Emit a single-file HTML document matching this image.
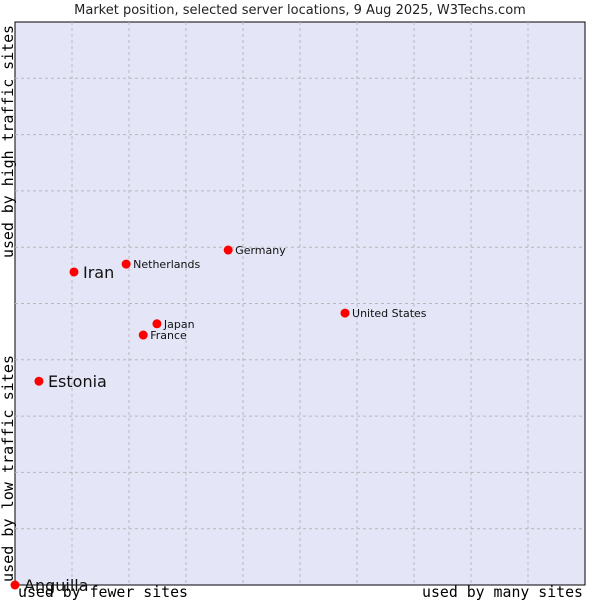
<!DOCTYPE html>
<html><head><meta charset="utf-8"><style>
body{margin:0;background:#fff;width:600px;height:600px;overflow:hidden}
svg text{font-family:"DejaVu Sans","Liberation Sans",sans-serif}
.mono{font-family:"DejaVu Sans Mono","Liberation Mono",monospace}
</style></head><body>
<svg id="chart" width="600" height="600" xmlns="http://www.w3.org/2000/svg">
<text x="300" y="14" font-size="13" text-anchor="middle" fill="#222">Market position, selected server locations, 9 Aug 2025, W3Techs.com</text>
<rect x="15" y="22" width="570" height="563" fill="#e4e6f8" stroke="#000" stroke-width="1"/>
<g id="grid"></g>
<g id="points"></g>
<text class="mono" x="18" y="597" font-size="15" textLength="170" lengthAdjust="spacingAndGlyphs" fill="#000">used by fewer sites</text>
<text class="mono" x="422" y="597" font-size="15" textLength="161" lengthAdjust="spacingAndGlyphs" fill="#000">used by many sites</text>
<text class="mono" transform="translate(13,258) rotate(-90)" font-size="15" textLength="233" lengthAdjust="spacingAndGlyphs" fill="#000">used by high traffic sites</text>
<text class="mono" transform="translate(13,582) rotate(-90)" font-size="15" textLength="227" lengthAdjust="spacingAndGlyphs" fill="#000">used by low traffic sites</text>
</svg>
<script>
const names=["Iran","Netherlands","Germany","United States","Japan","France","Estonia","Anguilla"];
const xVals=[0.1035,0.195,0.374,0.579,0.249,0.225,0.042,0.0];
const yVals=[0.556,0.570,0.595,0.483,0.464,0.444,0.362,0.0];
const big=[true,false,false,false,false,false,true,true];
const L=15,T=22,W=570,H=563;
const sx=v=>L+v*W, sy=v=>T+H-v*H;
const ns="http://www.w3.org/2000/svg";
const g=document.getElementById('grid');
for(let i=1;i<10;i++){
 const v=document.createElementNS(ns,'line');
 
 
 v.setAttribute('x1',sx(i/10));v.setAttribute('x2',sx(i/10));v.setAttribute('y1',T);v.setAttribute('y2',T+H);
 v.setAttribute('stroke','#b8b8b8');v.setAttribute('stroke-dasharray','3,3');g.appendChild(v);
 const h=document.createElementNS(ns,'line');
 
 
 h.setAttribute('y1',sy(i/10));h.setAttribute('y2',sy(i/10));h.setAttribute('x1',L);h.setAttribute('x2',L+W);
 h.setAttribute('stroke','#b8b8b8');h.setAttribute('stroke-dasharray','3,3');g.appendChild(h);
}
const p=document.getElementById('points');
names.forEach((n,i)=>{
 const x=sx(xVals[i]),y=sy(yVals[i]);
 const d=document.createElementNS(ns,'circle');
 
 
 d.setAttribute('cx',x);d.setAttribute('cy',y);d.setAttribute('r',4.5);
 d.setAttribute('fill','#f00');p.appendChild(d);
 const t=document.createElementNS(ns,'text');
 
 
 t.setAttribute('x',x+(big[i]?9:7));t.setAttribute('y',y+(big[i]?6:4));
 t.setAttribute('font-size',big[i]?16:11);t.setAttribute('fill','#111');
 t.textContent=n;p.appendChild(t);
});
</script>
</body></html>
